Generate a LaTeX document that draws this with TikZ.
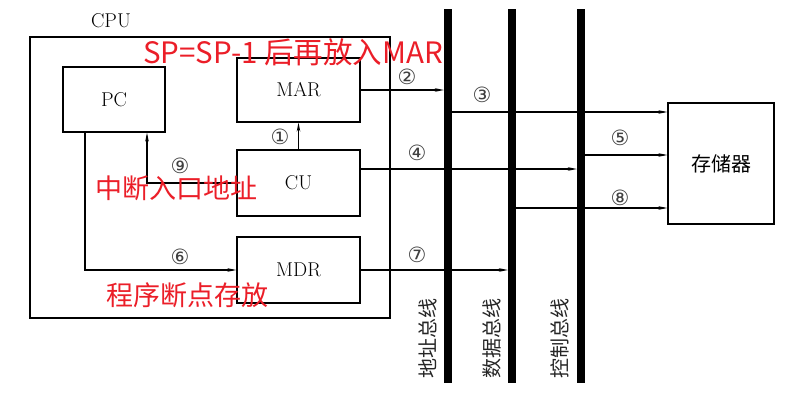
\documentclass[tikz,border=0pt]{standalone}
\usepackage{fontspec}
\usetikzlibrary{arrows.meta,calc}
\newfontfamily\cjk{Noto Sans CJK SC}
\newfontfamily\circfont{DejaVu Sans}
\definecolor{redtxt}{RGB}{235,30,40}
\tikzset{
  box/.style={draw, line width=1.2pt, rectangle, inner sep=0pt, font=\fontsize{20}{20}\selectfont},
  busbar/.style={fill=black, draw=none, rectangle, inner sep=0pt, minimum width=8pt, minimum height=374pt},
  arr/.style={line width=1.1pt, -{Stealth[length=9pt,width=3.6pt]}},
  num/.style={font=\circfont\fontsize{21}{21}\selectfont, text=black!75, inner sep=0pt},
  note/.style={font=\cjk\fontsize{27}{27}\selectfont, text=redtxt, inner sep=0pt},
  buslabel/.style={font=\cjk\fontsize{20}{20}\selectfont, rotate=90, inner sep=0pt, text=black!85},
}
\begin{document}
\begin{tikzpicture}[x=1pt,y=-1pt]
\useasboundingbox (0,0) rectangle (798,400);
% CPU frame
\node[box, minimum width=360pt, minimum height=281pt] (cpu) at (210,177.5) {};
\node[font=\fontsize{20}{20}\selectfont, inner sep=0pt] (cpulbl) at (111,21) {CPU};
% registers
\node[box, minimum width=102pt, minimum height=65pt] (pc) at (114,99.5) {PC};
\node[box, minimum width=123pt, minimum height=64pt] (mar) at (298.5,90) {MAR};
\node[box, minimum width=123pt, minimum height=66pt] (cu) at (298.5,183) {CU};
\node[box, minimum width=123pt, minimum height=66pt] (mdr) at (298.5,270) {MDR};
\node[box, minimum width=106pt, minimum height=121pt, font=\cjk\fontsize{20}{20}\selectfont] (sto) at (721,163.5) {存储器};
% buses
\node[busbar] (ab) at (448,196) {};
\node[busbar] (db) at (512,196) {};
\node[busbar] (cb) at (581,196) {};
% helper coordinates
\coordinate (y3) at (0,112);
\coordinate (y4) at (0,169);
\coordinate (y5) at (0,155);
\coordinate (y8) at (0,208);
\coordinate (x6) at (85,0);
\coordinate (x9) at (147,0);
% connectors
\draw[arr] (mar.east) -- (mar.east -| ab.west);
\draw[arr] (ab.east |- y3) -- (sto.west |- y3);
\draw[arr] (cu.east |- y4) -- (cb.west |- y4);
\draw[arr] (cb.east |- y5) -- (sto.west |- y5);
\draw[arr] (db.east |- y8) -- (sto.west |- y8);
\draw[arr] (mdr.east) -- (mdr.east -| db.west);
\draw[arr] (pc.south -| x6) |- (mdr.west);
\draw[arr] (cu.west) -| (pc.south -| x9);
\draw[arr] (cu.north) -- (mar.south);
% step numbers
\node[num] (n1) at (280,137) {①};
\node[num] (n2) at (407,77) {②};
\node[num] (n3) at (482,95) {③};
\node[num] (n4) at (417,153) {④};
\node[num] (n5) at (620,138) {⑤};
\node[num] (n6) at (180,257) {⑥};
\node[num] (n7) at (417,255) {⑦};
\node[num] (n8) at (620,198) {⑧};
\node[num] (n9) at (180,166) {⑨};
% bus labels
\node[buslabel] (lab) at (428,338) {地址总线};
\node[buslabel] (ldb) at (492,338) {数据总线};
\node[buslabel] (lcb) at (560,338) {控制总线};
% red notes
\node[note, anchor=west, font=\cjk\fontsize{29.5}{29.5}\selectfont] (t1) at (143,52) {SP=SP-1 后再放入MAR};
\node[note] (t2) at (176,188) {中断入口地址};
\node[note] (t3) at (187,295) {程序断点存放};
\end{tikzpicture}
\end{document}
